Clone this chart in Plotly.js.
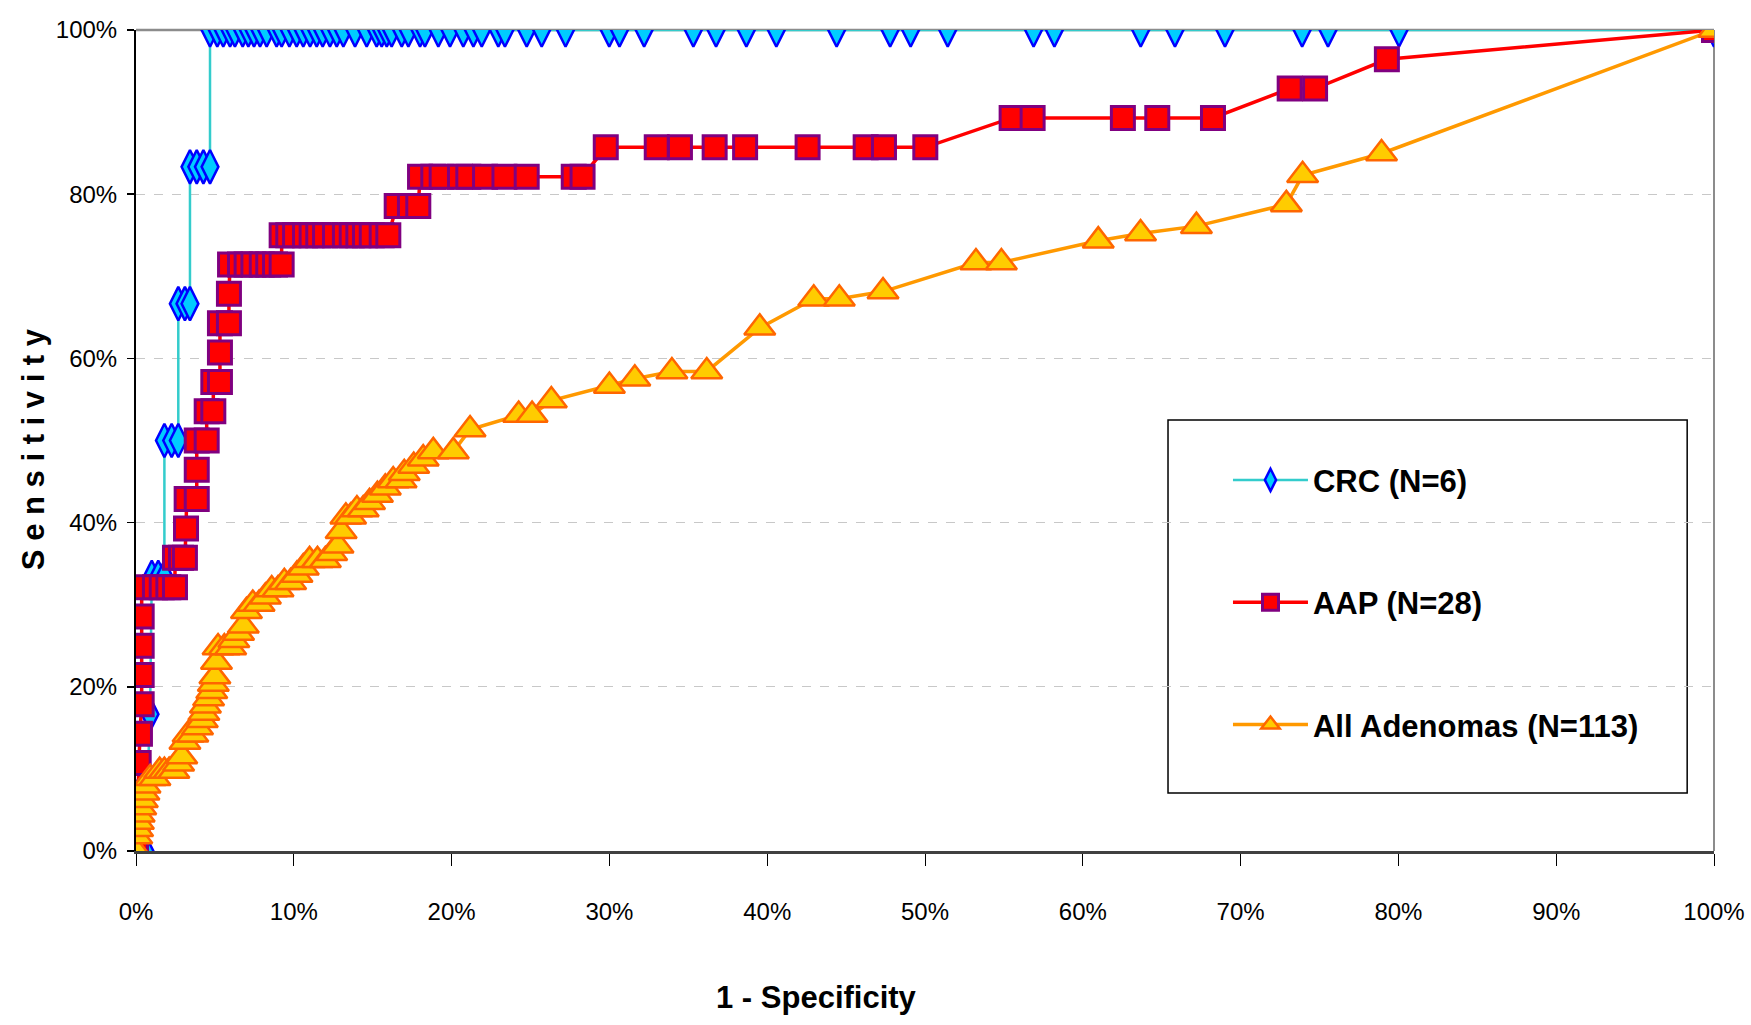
<!DOCTYPE html>
<html>
<head>
<meta charset="utf-8">
<script src="https://cdn.plot.ly/plotly-3.0.1.min.js"></script>
<style>
  html, body { margin: 0; padding: 0; background: #ffffff; }
  #chart { width: 1751px; height: 1025px; }
</style>
</head>
<body>
<div id="chart"></div>
<script>
// ---------- data ----------
const seriesNames = ["CRC (N=6)", "AAP (N=28)", "All Adenomas (N=113)"];

// CRC: 1 - specificity (x) and sensitivity (y)
const crcX = [0, 0.0057, 0.0089, 0.0100, 0.0141, 0.0180, 0.0180, 0.0226, 0.0268, 0.0268, 0.0310, 0.0342, 0.0342, 0.0385, 0.0427, 0.0469,
  0.0469, 0.0515, 0.0553, 0.0596, 0.0627, 0.0676, 0.0712, 0.0748, 0.0786, 0.0828,
  0.0891, 0.0923, 0.0972, 0.1018, 0.1060, 0.1103, 0.1145, 0.1183, 0.1229, 0.1272,
  0.1314, 0.1388, 0.1462, 0.1525, 0.1557, 0.1589, 0.1620, 0.1684, 0.1726, 0.1800,
  0.1831, 0.1916, 0.1990, 0.2074, 0.2138, 0.2191, 0.2296, 0.2338, 0.2476, 0.2571,
  0.2722, 0.2999, 0.3064, 0.3220, 0.3532, 0.3676, 0.3868, 0.4058, 0.4440, 0.4779,
  0.4909, 0.5144, 0.5688, 0.5820, 0.6367, 0.6584, 0.6901, 0.7390, 0.7554, 0.8004,
  1.0];
const crcY = [0, 0, 0.1667, 0.3333, 0.3333, 0.3333, 0.5, 0.5, 0.5, 0.6667, 0.6667, 0.6667, 0.8333, 0.8333, 0.8333, 0.8333,
  1, 1, 1, 1, 1, 1, 1, 1, 1, 1,
  1, 1, 1, 1, 1, 1, 1, 1, 1, 1,
  1, 1, 1, 1, 1, 1, 1, 1, 1, 1,
  1, 1, 1, 1, 1, 1, 1, 1, 1, 1,
  1, 1, 1, 1, 1, 1, 1, 1, 1, 1,
  1, 1, 1, 1, 1, 1, 1, 1, 1, 1,
  1];

// AAP
const aapX = [0, 0.0010, 0.0013, 0.0017, 0.0025, 0.0036, 0.0036, 0.0036, 0.0036, 0.0036,
  0.0120, 0.0163, 0.0205, 0.0247, 0.0247, 0.0285, 0.0310, 0.0317, 0.0321, 0.0385,
  0.0385, 0.0385, 0.0448, 0.0448, 0.0490, 0.0490, 0.0532, 0.0532, 0.0532, 0.0589,
  0.0589, 0.0596, 0.0659, 0.0701, 0.0744, 0.0797, 0.0838, 0.0881, 0.0923,
  0.0923, 0.0965, 0.1008, 0.1071, 0.1113, 0.1155, 0.1198, 0.1261, 0.1324, 0.1367, 0.1409, 0.1451, 0.1494, 0.1557, 0.1599,
  0.1652, 0.1736, 0.1789,
  0.1800, 0.1884, 0.1937, 0.2053, 0.2106, 0.2212, 0.2335, 0.2476, 0.2774, 0.2830,
  0.2977, 0.3300, 0.3447, 0.3667, 0.3860, 0.4256, 0.4624, 0.4740, 0.5002,
  0.5549, 0.5682, 0.6254, 0.6472, 0.6825,
  0.7311, 0.7472,
  0.7927,
  1.0];
const aapY = [0, 0.0357, 0.0714, 0.1071, 0.1429, 0.1786, 0.2143, 0.2500, 0.2857, 0.3214,
  0.3214, 0.3214, 0.3214, 0.3214, 0.3571, 0.3571, 0.3571, 0.3929, 0.4286, 0.4286,
  0.4643, 0.5000, 0.5000, 0.5357, 0.5357, 0.5714, 0.5714, 0.6071, 0.6429, 0.6429,
  0.6786, 0.7143, 0.7143, 0.7143, 0.7143, 0.7143, 0.7143, 0.7143, 0.7143,
  0.7500, 0.7500, 0.7500, 0.7500, 0.7500, 0.7500, 0.7500, 0.7500, 0.7500, 0.7500, 0.7500, 0.7500, 0.7500, 0.7500, 0.7500,
  0.7857, 0.7857, 0.7857,
  0.8214, 0.8214, 0.8214, 0.8214, 0.8214, 0.8214, 0.8214, 0.8214, 0.8214, 0.8214,
  0.8571, 0.8571, 0.8571, 0.8571, 0.8571, 0.8571, 0.8571, 0.8571, 0.8571,
  0.8929, 0.8929, 0.8929, 0.8929, 0.8929,
  0.9286, 0.9286,
  0.9643,
  1.0];

// All adenomas
const adenX = [0, 0.0005, 0.0010, 0.0015, 0.0020, 0.0030, 0.0040, 0.0050, 0.0057, 0.0090,
  0.0120, 0.0150, 0.0180, 0.0210, 0.0240, 0.0270, 0.0290, 0.0310, 0.0330, 0.0360,
  0.0390, 0.0420, 0.0430, 0.0440, 0.0460, 0.0480, 0.0490, 0.0500, 0.0510, 0.0520,
  0.0560, 0.0600, 0.0620, 0.0650, 0.0680, 0.0700, 0.0740, 0.0780, 0.0820, 0.0860,
  0.0900, 0.0940, 0.0980, 0.1020, 0.1060, 0.1100, 0.1150, 0.1200, 0.1240, 0.1280,
  0.1300, 0.1330, 0.1360, 0.1400, 0.1440, 0.1480, 0.1530, 0.1580, 0.1630, 0.1680,
  0.1700, 0.1760, 0.1820, 0.1884, 0.2011, 0.2117, 0.2425, 0.2510, 0.2632, 0.3000,
  0.3161, 0.3396, 0.3617, 0.3953, 0.4295, 0.4457, 0.4734, 0.5323, 0.5484, 0.6098,
  0.6366, 0.6720, 0.7290, 0.7393, 0.7893, 1.0];
const adenY = [0, 0.0177, 0.0265, 0.0354, 0.0442, 0.0531, 0.0619, 0.0708, 0.0796, 0.0885,
  0.0885, 0.0973, 0.0973, 0.0973, 0.0973, 0.1062, 0.1150, 0.1327, 0.1416, 0.1416,
  0.1504, 0.1593, 0.1681, 0.1770, 0.1858, 0.1947, 0.2035, 0.2124, 0.2301, 0.2478,
  0.2478, 0.2478, 0.2566, 0.2655, 0.2743, 0.2920, 0.3009, 0.3009, 0.3097, 0.3186,
  0.3186, 0.3274, 0.3274, 0.3363, 0.3451, 0.3540, 0.3540, 0.3540, 0.3628, 0.3717,
  0.3894, 0.4071, 0.4071, 0.4159, 0.4159, 0.4248, 0.4336, 0.4425, 0.4513, 0.4513,
  0.4602, 0.4690, 0.4779, 0.4867, 0.4867, 0.5133, 0.5310, 0.5310, 0.5487, 0.5664,
  0.5752, 0.5841, 0.5841, 0.6372, 0.6726, 0.6726, 0.6814, 0.7168, 0.7168, 0.7434,
  0.7522, 0.7611, 0.7876, 0.8230, 0.8496, 1.0];

// axis ticks and titles
const xTickVals = [0, 0.1, 0.2, 0.3, 0.4, 0.5, 0.6, 0.7, 0.8, 0.9, 1.0];
const xTickText = ["0%", "10%", "20%", "30%", "40%", "50%", "60%", "70%", "80%", "90%", "100%"];
const yTickVals = [0, 0.2, 0.4, 0.6, 0.8, 1.0];
const yTickText = ["0%", "20%", "40%", "60%", "80%", "100%"];
const xTitle = "1 - Specificity";
const yTitle = "S e n s i t i v i t y";

// ---------- styling ----------
const FONT = "Liberation Sans, Arial, sans-serif";

const traces = [
  {
    x: crcX, y: crcY, name: seriesNames[0], type: "scatter", mode: "lines+markers",
    legendgroup: "g1",
    line: { color: "#33CCCC", width: 2.5 },
    marker: { symbol: "diamond-tall", size: 24, color: "#00CCFF", line: { color: "#0000FF", width: 2.5 } },
    hoverinfo: "skip"
  },
  {
    x: aapX, y: aapY, name: seriesNames[1], type: "scatter", mode: "lines+markers",
    legendgroup: "g2",
    line: { color: "#FF0000", width: 3.5 },
    marker: { symbol: "square", size: 23, color: "#FF0000", line: { color: "#800080", width: 3 } },
    hoverinfo: "skip"
  },
  {
    x: adenX, y: adenY, name: seriesNames[2], type: "scatter", mode: "lines+markers",
    legendgroup: "g3",
    line: { color: "#FF9900", width: 3.5 },
    marker: { symbol: "triangle-up", size: 27, color: "#FFCC00", line: { color: "#FF6600", width: 2.5 } },
    hoverinfo: "skip"
  }
];

const layout = {
  width: 1751, height: 1025,
  margin: { l: 136, r: 37, t: 30, b: 174, pad: 0 },
  paper_bgcolor: "#ffffff", plot_bgcolor: "#ffffff",
  showlegend: true,
  legend: {
    x: 0.692, xanchor: "left", y: 0.4845, yanchor: "top",
    bgcolor: "rgba(0,0,0,0)", borderwidth: 0,
    itemwidth: 75, tracegroupgap: 79,
    font: { family: FONT, size: 31, color: "#000000", weight: "bold" }
  },
  xaxis: {
    range: [0, 1], autorange: false,
    tickmode: "array", tickvals: xTickVals, ticktext: xTickText,
    ticks: "outside", ticklen: 12, tickwidth: 1, tickcolor: "#000000",
    ticklabelstandoff: 25,
    showgrid: false, zeroline: false,
    showline: true, linecolor: "#404040", linewidth: 3,
    tickfont: { family: FONT, size: 24, color: "#000000" },
    automargin: false, fixedrange: true
  },
  yaxis: {
    range: [0, 1], autorange: false,
    tickmode: "array", tickvals: yTickVals, ticktext: yTickText,
    ticks: "outside", ticklen: 7, tickwidth: 1.5, tickcolor: "#000000",
    ticklabelstandoff: 5,
    showgrid: true, gridcolor: "#C8C8C8", gridwidth: 1, griddash: "dash",
    zeroline: false,
    showline: true, linecolor: "#000000", linewidth: 2,
    tickfont: { family: FONT, size: 24, color: "#000000" },
    automargin: false, fixedrange: true
  },
  annotations: [
    { text: xTitle, xref: "paper", yref: "paper", x: 0.431, y: -0.178, xanchor: "center", yanchor: "middle",
      showarrow: false, font: { family: FONT, size: 31, color: "#000000", weight: "bold" } },
    { text: yTitle, xref: "paper", yref: "paper", x: -0.065, y: 0.49, xanchor: "center", yanchor: "middle",
      textangle: -90, showarrow: false, font: { family: FONT, size: 31, color: "#000000", weight: "bold" } }
  ],
  shapes: [
    // plot-area frame (top and right, grey)
    { type: "line", xref: "paper", yref: "paper", x0: 0, x1: 1, y0: 1, y1: 1, line: { color: "#8C8C8C", width: 2.5 }, layer: "between" },
    { type: "line", xref: "paper", yref: "paper", x0: 1, x1: 1, y0: 0, y1: 1, line: { color: "#8C8C8C", width: 2 }, layer: "between" },
    // legend frame
    { type: "rect", xref: "paper", yref: "paper", x0: 0.654, x1: 0.983, y0: 0.0706, y1: 0.525,
      line: { color: "#000000", width: 1.5 }, fillcolor: "#ffffff", layer: "between" }
  ]
};

Plotly.newPlot("chart", traces, layout, { displayModeBar: false, staticPlot: true });
</script>
</body>
</html>
